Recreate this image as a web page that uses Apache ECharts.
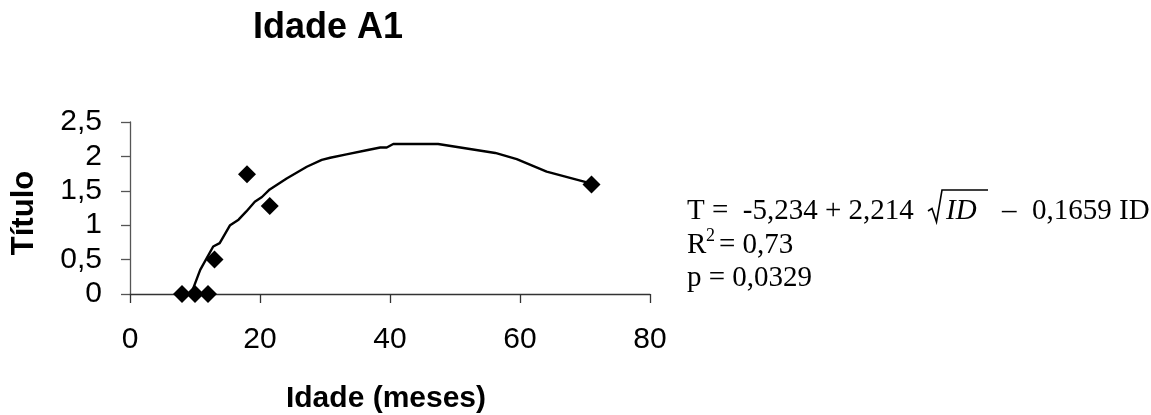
<!DOCTYPE html>
<html>
<head>
<meta charset="utf-8">
<title>Idade A1</title>
<script src="https://cdn.jsdelivr.net/npm/echarts@6/dist/echarts.min.js"></script>
<style>
  html, body { margin: 0; padding: 0; background: #fff; }
  #idade { width: 1151px; height: 415px; }
</style>
</head>
<body>
<div id="idade"></div>
<script>
// pontos observados (idade em meses, titulo)
var pontosIdade  = [8, 10, 12, 13, 18, 21.5, 71];
var pontosTitulo = [0, 0, 0, 0.5, 1.74, 1.28, 1.59];

// curva ajustada
var curvaIdade  = [9.4, 10, 10.8, 12.8, 13.8, 15.4, 16.7, 17.9, 19.2, 20.3, 21.5, 24.1, 27.2, 29.5, 30.8, 33.3, 36.4, 38.5, 39.5, 40.5, 47.4, 56.2, 59.5, 64.1, 70, 71];
var curvaTitulo = [0, 0.15, 0.35, 0.69, 0.74, 1.0, 1.08, 1.2, 1.34, 1.41, 1.52, 1.68, 1.85, 1.95, 1.98, 2.03, 2.09, 2.13, 2.13, 2.18, 2.18, 2.05, 1.96, 1.78, 1.63, 1.59];

var eixoX = { min: 0, max: 80, step: 20 };
var eixoY = { min: 0, max: 2.5, step: 0.5 };

var titulo = 'Idade A1';
var nomeX = 'Idade (meses)';
var nomeY = 'Título';
var equacao = ['T =  -5,234 + 2,214', 'ID', '–', '0,1659 ID'];
var r2 = '0,73';
var pValor = '0,0329';

(function(window, doc) {
  var myChart = echarts.init(doc.getElementById('idade'));

  var pontos = pontosIdade.map(function(x, i) { return [x, pontosTitulo[i]]; });
  var curva = curvaIdade.map(function(x, i) { return [x, curvaTitulo[i]]; });

  var sans = '"Liberation Sans", Arial, sans-serif';
  var serif = '"Liberation Serif", "Times New Roman", serif';

  function txt(x, y, s, font, align) {
    return {
      type: 'text', x: x, y: y,
      style: { text: s, font: font, fill: '#000', textAlign: align || 'left', textVerticalAlign: 'middle' }
    };
  }

  myChart.setOption({
    backgroundColor: '#fff',
    animation: false,
    grid: { left: 130, right: 501, top: 122, bottom: 121, containLabel: false },
    xAxis: {
      type: 'value',
      min: eixoX.min, max: eixoX.max, interval: eixoX.step,
      splitLine: { show: false },
      axisLine: { onZero: false, lineStyle: { color: '#333', width: 1.3 } },
      axisTick: { inside: false, length: 9, lineStyle: { color: '#333', width: 1.3 } },
      axisLabel: { margin: 31, color: '#000', fontSize: 30, fontFamily: sans }
    },
    yAxis: {
      type: 'value',
      min: eixoY.min, max: eixoY.max, interval: eixoY.step,
      splitLine: { show: false },
      axisLine: { show: true, onZero: false, lineStyle: { color: '#555', width: 1.3 } },
      axisTick: { show: true, inside: false, length: 9, lineStyle: { color: '#555', width: 1.3 } },
      axisLabel: {
        margin: 28, color: '#000', fontSize: 30, fontFamily: sans,
        formatter: function(v) { return String(v).replace('.', ','); }
      }
    },
    series: [
      {
        type: 'line',
        data: curva,
        showSymbol: false,
        symbol: 'none',
        clip: false,
        lineStyle: { color: '#000', width: 2.4 },
        z: 2
      },
      {
        type: 'scatter',
        data: pontos,
        symbol: 'diamond',
        symbolSize: 18,
        clip: false,
        itemStyle: { color: '#000', opacity: 1 },
        z: 3
      }
    ],
    graphic: [
      txt(253, 28, titulo, 'bold 36px ' + sans),
      txt(386, 399, nomeX, 'bold 30px ' + sans, 'center'),
      {
        type: 'text', x: 24, y: 213, rotation: Math.PI / 2,
        style: { text: nomeY, font: 'bold 31px ' + sans, fill: '#000', textAlign: 'center', textVerticalAlign: 'middle' }
      },
      // equacao
      txt(687, 211, equacao[0], '29px ' + serif),
      {
        type: 'polyline',
        shape: { points: [[928, 211], [932, 208.5], [936.5, 222], [942, 190], [988, 190]] },
        style: { stroke: '#000', lineWidth: 1.6, fill: null }
      },
      txt(946, 211, equacao[1], 'italic 29px ' + serif),
      txt(1002, 211, equacao[2], '29px ' + serif),
      txt(1032, 211, equacao[3], '29px ' + serif),
      txt(687, 245, 'R', '29px ' + serif),
      txt(706, 236, '2', '18px ' + serif),
      txt(719, 245, '= ' + r2, '29px ' + serif),
      txt(687, 278, 'p = ' + pValor, '29px ' + serif)
    ]
  });
}(window, document));
</script>
</body>
</html>
